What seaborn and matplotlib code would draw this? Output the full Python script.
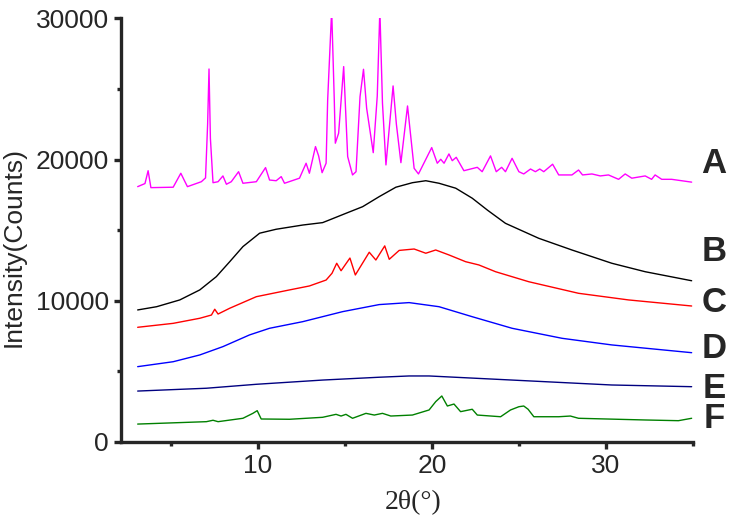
import matplotlib
matplotlib.use("Agg")
import matplotlib.pyplot as plt
from matplotlib.ticker import MultipleLocator
import pandas as pd
import seaborn as sns

# sample labels and colours
samples = ["A", "B", "C", "D", "E", "F"]
colores = ["#FF00FF", "#000000", "#FF0000", "#0000FF", "#000080", "#008000"]

# values (2theta in degrees, intensity in counts)
a_x = [3.08, 3.50, 3.68, 3.84, 5.12, 5.56, 5.75, 5.94, 6.74, 6.98, 7.10, 7.18, 7.26, 7.41, 7.70, 7.98,
       8.18, 8.46, 8.88, 9.13, 9.90, 10.43, 10.66, 11.04, 11.33, 11.52, 12.38, 12.76, 12.95, 13.30,
       13.48, 13.68, 13.91, 14.00, 14.23, 14.38, 14.44, 14.63, 14.92, 15.15, 15.43, 15.63, 15.86,
       16.06, 16.24, 16.62, 16.85, 17.00, 17.15, 17.35, 17.76, 17.95, 18.21, 18.59, 18.97, 19.22,
       19.98, 20.30, 20.50, 20.69, 20.97, 21.16, 21.39, 21.83, 22.60, 22.88, 23.36, 23.69, 24.00,
       24.22, 24.60, 24.99, 25.27, 25.66, 25.94, 26.19, 26.42, 26.93, 27.28, 28.04, 28.42, 28.65,
       29.19, 29.67, 30.14, 30.72, 31.10, 31.48, 32.25, 32.62, 32.82, 33.20, 33.77, 34.92]
a_y = [18080, 18300, 19210, 18010, 18040, 19030, 18550, 18080, 18430, 18700, 22500, 26420, 21500,
       18360, 18430, 18840, 18250, 18430, 19140, 18320, 18430, 19430, 18550, 18500, 18790, 18320,
       18680, 19740, 19030, 20920, 20260, 19070, 19740, 24230, 30600, 24230, 21160, 21870, 26590,
       20210, 18910, 19140, 24460, 26400, 23640, 20490, 24500, 30600, 24000, 19620, 25220, 22500,
       19780, 23800, 19380, 18980, 20850, 19740, 20020, 19740, 20400, 19920, 20160, 19210, 19450,
       19140, 20260, 19140, 19450, 19140, 20090, 19140, 18980, 19330, 19140, 19330, 19140, 19670,
       18910, 18910, 19260, 18910, 18980, 18840, 18910, 18600, 18980, 18680, 18840, 18600, 18910,
       18600, 18600, 18400]

b_x = [3.08, 4.17, 5.50, 6.65, 7.60, 8.37, 9.13, 10.09, 11.04, 12.57, 13.71, 14.10, 15.05, 16.01,
       16.96, 17.92, 18.87, 19.64, 20.40, 21.36, 22.31, 23.20, 24.22, 26.13, 28.04, 30.33, 32.25, 34.92]
b_y = [9340, 9570, 10050, 10760, 11700, 12760, 13830, 14780, 15060, 15360, 15530, 15720, 16190, 16660,
       17370, 18040, 18360, 18500, 18320, 17970, 17260, 16400, 15480, 14420, 13590, 12650, 12050, 11410]

c_x = [3.08, 5.12, 6.65, 7.32, 7.51, 7.70, 8.37, 9.90, 11.81, 12.95, 13.91, 14.25, 14.52, 14.77,
       15.28, 15.59, 16.39, 16.77, 17.28, 17.54, 18.11, 18.97, 19.64, 20.21, 20.97, 21.93, 22.69,
       23.65, 25.56, 28.42, 31.29, 34.92]
c_y = [8110, 8390, 8750, 8980, 9390, 9050, 9460, 10280, 10760, 11040, 11460, 11940, 12650, 12120,
       13020, 11820, 13430, 12880, 13880, 12930, 13560, 13660, 13360, 13590, 13240, 12760, 12530,
       12050, 11340, 10520, 10050, 9620]

d_x = [3.08, 5.12, 6.65, 7.98, 9.51, 10.66, 12.57, 14.86, 16.96, 18.68, 20.40, 22.31, 24.60, 27.47,
       30.33, 34.92]
d_y = [5320, 5670, 6150, 6740, 7570, 8040, 8510, 9220, 9720, 9860, 9570, 8860, 8040, 7330, 6860, 6310]

e_x = [3.08, 7.03, 9.90, 13.71, 16.96, 18.68, 19.83, 24.60, 30.33, 34.92]
e_y = [3590, 3790, 4070, 4370, 4570, 4660, 4660, 4370, 4020, 3900]

f_x = [3.08, 7.03, 7.41, 7.70, 9.13, 9.70, 9.95, 10.18, 11.81, 13.71, 14.48, 14.77, 15.05, 15.43,
       16.20, 16.68, 17.15, 17.63, 18.87, 19.83, 20.21, 20.56, 20.88, 21.26, 21.64, 22.31, 22.60,
       23.94, 24.51, 24.99, 25.27, 25.52, 25.85, 27.28, 27.95, 28.42, 32.25, 34.16, 34.92]
f_y = [1250, 1420, 1520, 1420, 1660, 2010, 2200, 1610, 1590, 1730, 1940, 1820, 1940, 1660, 2010, 1890,
       2010, 1820, 1890, 2250, 2840, 3240, 2530, 2670, 2130, 2300, 1890, 1770, 2250, 2480, 2530,
       2300, 1770, 1770, 1820, 1660, 1540, 1490, 1660]

# where the letters sit (intensity)
etiqueta_y = [19740, 13470, 9855, 6620, 3786, 1660]

xs = [a_x, b_x, c_x, d_x, e_x, f_x]
ys = [a_y, b_y, c_y, d_y, e_y, f_y]

linhas = []
for nome, x, y in zip(samples, xs, ys):
    for xi, yi in zip(x, y):
        linhas.append({"angulo": xi, "intensidade": yi, "amostra": nome})
frame = pd.DataFrame(linhas)

sns.set_style("ticks")
plt.rcParams["font.family"] = ["Liberation Sans", "DejaVu Sans"]

fig = plt.figure(figsize=(7.35, 5.21), dpi=100)
ax = fig.add_axes([0.1653, 0.1522, 0.7776, 0.8123])

sns.lineplot(data=frame, x="angulo", y="intensidade", hue="amostra",
             palette=dict(zip(samples, colores)), estimator=None, sort=False,
             linewidth=1.0, legend=False, ax=ax)

ax.set_xlim(2.15, 35)
ax.set_ylim(0, 30000)
ax.xaxis.set_major_locator(MultipleLocator(10))
ax.xaxis.set_minor_locator(MultipleLocator(5))
ax.yaxis.set_major_locator(MultipleLocator(10000))
ax.yaxis.set_minor_locator(MultipleLocator(5000))

sns.despine(ax=ax)
for lado in ["left", "bottom"]:
    ax.spines[lado].set_linewidth(2.4)
ax.tick_params(which="major", direction="out", length=5, width=2.4, labelsize=19, pad=4)
ax.tick_params(which="minor", direction="out", length=3, width=2.4)

ax.set_ylabel("Intensity(Counts)", fontsize=19)
ax.yaxis.label.set_va("center")
ax.yaxis.set_label_coords(-0.188, 0.46)
ax.set_xlabel("2θ(°)", fontsize=20, family=["Liberation Serif", "DejaVu Serif"])
ax.xaxis.label.set_va("center")
ax.xaxis.set_label_coords(0.51, -0.145)

for nome, yl in zip(samples, etiqueta_y):
    ax.text(36.2, yl, nome, fontsize=25, fontweight="bold", ha="center", va="center", clip_on=False)

fig.savefig("out.png", dpi=100)
